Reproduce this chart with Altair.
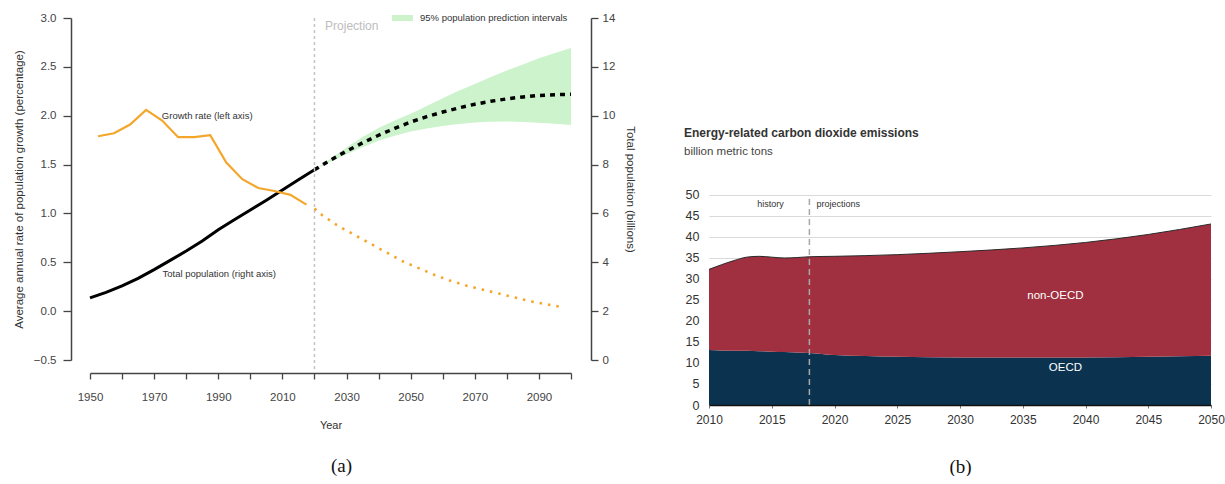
import altair as alt
import pandas as pd

FONT = "Liberation Sans"
SERIF = "Liberation Serif"

# ---------------- Panel (a): world population and its growth rate ----------------
growth_hist_years = [1952.5, 1957.5, 1962.5, 1967.5, 1972.5, 1977.5, 1982.5,
                     1987.5, 1992.5, 1997.5, 2002.5, 2007.5, 2012.5, 2017.5]
growth_hist = [1.79, 1.82, 1.91, 2.06, 1.95, 1.78, 1.78,
               1.80, 1.52, 1.35, 1.26, 1.23, 1.19, 1.09]
growth_proj_years = [2020, 2022.5, 2027.5, 2032.5, 2037.5, 2042.5, 2047.5, 2052.5, 2057.5,
                     2062.5, 2067.5, 2072.5, 2077.5, 2082.5, 2087.5, 2092.5, 2097.5]
growth_proj = [1.05, 0.98, 0.87, 0.78, 0.69, 0.60, 0.51, 0.44, 0.37,
               0.31, 0.26, 0.22, 0.18, 0.14, 0.10, 0.07, 0.04]

pop_hist_years = list(range(1950, 2021, 5))
pop_hist = [2.54, 2.77, 3.03, 3.34, 3.70, 4.08, 4.46, 4.87, 5.33, 5.74, 6.14, 6.54, 6.96, 7.38, 7.79]
pop_proj_years = list(range(2020, 2101, 5))
pop_proj = [7.79, 8.18, 8.55, 8.89, 9.20, 9.48, 9.74, 9.96, 10.15, 10.32, 10.47,
            10.59, 10.69, 10.77, 10.83, 10.86, 10.88]
pop_lower = [7.79, 8.12, 8.42, 8.71, 8.98, 9.18, 9.35, 9.48, 9.58, 9.66, 9.72,
             9.75, 9.76, 9.74, 9.71, 9.67, 9.62]
pop_upper = [7.79, 8.24, 8.70, 9.13, 9.50, 9.80, 10.08, 10.40, 10.72, 11.02, 11.30,
             11.58, 11.85, 12.10, 12.35, 12.57, 12.77]
band_name = "95% population prediction intervals"

projection_start = 2020

# ---------------- Panel (b): energy-related CO2 emissions ----------------
co2_years = [2010, 2011, 2012, 2013, 2014, 2015, 2016, 2017, 2018,
             2020, 2025, 2030, 2035, 2040, 2045, 2050]
oecd = [13.1, 13.0, 12.9, 12.9, 12.8, 12.7, 12.6, 12.5, 12.4,
        11.9, 11.5, 11.3, 11.3, 11.3, 11.5, 11.7]
non_oecd = [19.2, 20.4, 21.5, 22.3, 22.6, 22.5, 22.4, 22.6, 22.9,
            23.5, 24.3, 25.2, 26.1, 27.4, 29.1, 31.4]
history_end = 2018

ORANGE = "#F4A62A"
BAND = "#CCF3CC"
AXC = "#444444"

# ---------- panel (a) encodings ----------
x_axis_a = alt.Axis(
    values=list(range(1950, 2101, 10)), format="d",
    labelExpr="(datum.value - 1950) % 20 == 0 && datum.value < 2100 ? datum.label : ''",
    labelFlush=False, labelOverlap=False, offset=13, tickSize=6, tickWidth=1.3,
    tickColor=AXC, domain=True, domainColor=AXC, domainWidth=1.5, labelFont=FONT,
    labelFontSize=11.5, labelColor="#444444", labelPadding=12, grid=False, title="Year",
    titleFont=FONT, titleFontSize=11, titleFontWeight="normal", titleColor="#333333",
    titlePadding=17, zindex=1,
)
x_scale_a = alt.Scale(domain=[1950, 2100], nice=False, zero=False)

left_axis = alt.Axis(
    orient="left", values=[-0.5, 0, 0.5, 1, 1.5, 2, 2.5, 3], format=".1f", offset=19,
    tickSize=8, tickWidth=1.3, tickColor=AXC, domain=True, domainColor=AXC, domainWidth=1.5,
    labelFont=FONT, labelFontSize=11.5, labelColor="#444444", labelPadding=7, grid=False,
    title="Average annual rate of population growth (percentage)", titleFont=FONT,
    titleFontSize=11.5, titleFontWeight="normal", titleColor="#333333", titlePadding=9,
    zindex=1,
)
left_scale = alt.Scale(domain=[-0.5, 3.0], nice=False, zero=False)

right_axis = alt.Axis(
    orient="right", values=list(range(0, 15, 2)), format="d", offset=20,
    tickSize=7, tickWidth=1.3, tickColor=AXC, domain=True, domainColor=AXC, domainWidth=1.5,
    labelFont=FONT, labelFontSize=11.5, labelColor="#444444", labelPadding=4, grid=False,
    title="Total population (billions)", titleFont=FONT, titleFontSize=11.5,
    titleFontWeight="normal", titleColor="#333333", titlePadding=10, zindex=1,
)
right_scale = alt.Scale(domain=[0, 14], nice=False, zero=False)


def xa():
    return alt.X("year:Q", scale=x_scale_a, axis=x_axis_a, title="Year")


def yl(field="g"):
    return alt.Y(f"{field}:Q", scale=left_scale, axis=left_axis,
                 title="Average annual rate of population growth (percentage)")


def yr(field="p"):
    return alt.Y(f"{field}:Q", scale=right_scale, axis=right_axis,
                 title="Total population (billions)")


g_hist_df = pd.DataFrame({"year": growth_hist_years, "g": growth_hist})
g_proj_df = pd.DataFrame({"year": growth_proj_years, "g": growth_proj})
p_hist_df = pd.DataFrame({"year": pop_hist_years, "p": pop_hist})
p_proj_df = pd.DataFrame({"year": pop_proj_years, "p": pop_proj})
band_df = pd.DataFrame({"year": pop_proj_years, "lo": pop_lower, "hi": pop_upper,
                        "band": band_name})
vline_df = pd.DataFrame({"year": [projection_start], "g": [3.0], "g2": [-0.62]})
notes_df = pd.DataFrame({
    "year": [1972.4, 1972.6],
    "g": [2.0, 0.38],
    "label": ["Growth rate (left axis)", "Total population (right axis)"],
})
proj_label_df = pd.DataFrame({"year": [2023.3], "g": [2.92], "label": ["Projection"]})

band = alt.Chart(band_df).mark_area(opacity=1).encode(
    x=xa(), y=yr("lo"), y2="hi:Q",
    color=alt.Color("band:N", scale=alt.Scale(domain=[band_name], range=[BAND]),
                    legend=alt.Legend(
        title=None, orient="none", legendX=299, legendY=-13.5, symbolType="stroke",
        symbolStrokeWidth=6, symbolSize=441, symbolStrokeColor=BAND, symbolFillColor=BAND,
        symbolOpacity=1, labelFont=FONT, labelFontSize=9.5, labelColor="#333333",
        labelOffset=4, padding=0,
    )),
)
pop_line = alt.Chart(p_hist_df).mark_line(color="black", strokeWidth=3).encode(x=xa(), y=yr())
pop_dash = alt.Chart(p_proj_df).mark_line(
    color="black", strokeWidth=3.5, strokeDash=[5, 5]).encode(x=xa(), y=yr())
right_group = alt.layer(band, pop_line, pop_dash)

vline = alt.Chart(vline_df).mark_rule(color="#C4C4C4", strokeWidth=1.5, strokeDash=[3, 3]).encode(
    x=xa(), y=yl(), y2="g2:Q")
g_line = alt.Chart(g_hist_df).mark_line(color=ORANGE, strokeWidth=2.2).encode(x=xa(), y=yl())
g_dots = alt.Chart(g_proj_df).mark_line(
    color=ORANGE, strokeWidth=2.6, strokeDash=[2.5, 6]).encode(x=xa(), y=yl())
notes = alt.Chart(notes_df).mark_text(
    align="left", baseline="middle", font=FONT, fontSize=9.5, color="#333333").encode(
    x=xa(), y=yl(), text="label:N")
proj_label = alt.Chart(proj_label_df).mark_text(
    align="left", baseline="middle", font=FONT, fontSize=12, color="#BDBDBD").encode(
    x=xa(), y=yl(), text="label:N")
left_group = alt.layer(vline, g_line, g_dots, notes, proj_label)

panel_a = alt.layer(right_group, left_group).resolve_scale(y="independent").properties(
    width=481, height=342,
    title=alt.TitleParams("(a)", orient="bottom", anchor="middle", frame="group", dx=11,
                          offset=26, font=SERIF, fontSize=19, fontWeight="normal",
                          color="#111111"),
)

# ---------- panel (b) ----------
x_axis_b = alt.Axis(
    values=list(range(2010, 2051, 5)), format="d", labelFlush=False, labelOverlap=False,
    domainColor="#111111", domainWidth=1.5, tickSize=3, tickColor="#777777",
    labelFont=FONT, labelFontSize=12, labelColor="#333333", labelPadding=6, grid=False,
    zindex=1, title="(b)", titleFont=SERIF, titleFontSize=19, titleFontWeight="normal",
    titleColor="#111111", titlePadding=32,
)
x_scale_b = alt.Scale(domain=[2010, 2050], nice=False, zero=False)
y_axis_b = alt.Axis(
    values=list(range(0, 51, 5)), domain=False, ticks=False, labelFont=FONT,
    labelFontSize=12.5, labelColor="#333333", labelPadding=10, grid=True,
    gridColor="#D9D9D9", gridWidth=1.2, title=None,
)
y_scale_b = alt.Scale(domain=[0, 92.14], nice=False, zero=True)


def xb():
    return alt.X("year:Q", scale=x_scale_b, axis=x_axis_b, title="(b)")


def yb(field="v", stack=None):
    if stack:
        return alt.Y(f"{field}:Q", scale=y_scale_b, axis=y_axis_b, title=None, stack=stack)
    return alt.Y(f"{field}:Q", scale=y_scale_b, axis=y_axis_b, title=None)


co2_df = pd.DataFrame({
    "year": co2_years * 2,
    "v": oecd + non_oecd,
    "region": ["OECD"] * len(co2_years) + ["non-OECD"] * len(co2_years),
    "ord": [0] * len(co2_years) + [1] * len(co2_years),
})
split_df = pd.DataFrame({"year": [history_end], "v": [0], "v2": [50]})
phase_df = pd.DataFrame({"year": [2014.9, 2020.3], "v": [47.9, 47.9],
                         "label": ["history", "projections"]})
region_lbl_df = pd.DataFrame({"year": [2037.6, 2038.4], "v": [25.95, 8.8],
                              "label": ["non-OECD", "OECD"]})

areas = alt.Chart(co2_df).mark_area(interpolate="monotone").encode(
    x=xb(), y=yb(stack="zero"),
    color=alt.Color("region:N", scale=alt.Scale(domain=["OECD", "non-OECD"],
                                                range=["#0B3350", "#A0303F"]), legend=None),
    order=alt.Order("ord:Q"),
)
total_line = alt.Chart(co2_df).transform_aggregate(
    v="sum(v)", groupby=["year"]).mark_line(
    color="#2A2A2A", strokeWidth=1, interpolate="monotone").encode(x=xb(), y=yb())
split = alt.Chart(split_df).mark_rule(color="#A8A8A8", strokeWidth=1.5, strokeDash=[6, 4]).encode(
    x=xb(), y=yb(), y2="v2:Q")
phase = alt.Chart(phase_df).mark_text(font=FONT, fontSize=9, color="#333333").encode(
    x=xb(), y=yb(), text="label:N")
region_lbl = alt.Chart(region_lbl_df).mark_text(font=FONT, fontSize=11.5, color="white").encode(
    x=xb(), y=yb(), text="label:N")

panel_b = alt.layer(areas, total_line, split, phase, region_lbl).properties(
    width=502, height=387,
    title=alt.TitleParams(
        "Energy-related carbon dioxide emissions", subtitle="billion metric tons",
        orient="top", anchor="start", frame="group", dx=-25, offset=-140,
        font=FONT, fontSize=12, fontWeight="bold", color="#333333",
        subtitleFont=FONT, subtitleFontSize=11.5, subtitleColor="#444444", subtitlePadding=6,
    ),
)

chart = alt.hconcat(panel_a, panel_b, spacing=138, bounds="flush").resolve_scale(
    color="independent"
).configure(
    font=FONT, padding={"left": 13, "top": 4, "right": 0, "bottom": 0},
).configure_view(stroke=None)

chart.save("out.html", embed_options={"renderer": "svg", "actions": False})
